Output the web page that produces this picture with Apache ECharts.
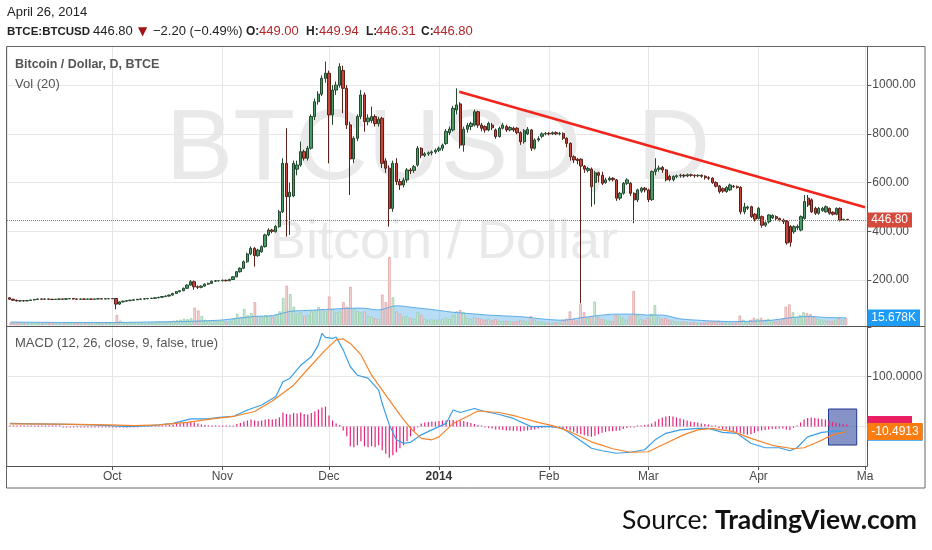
<!DOCTYPE html>
<html>
<head>
<meta charset="utf-8">
<title>BTCE:BTCUSD</title>
<script src="https://cdn.jsdelivr.net/npm/echarts@6/dist/echarts.min.js"></script>
<style>
html, body { margin: 0; padding: 0; background: #fff; }
#chart { width: 932px; height: 550px; }
</style>
</head>
<body>
<div id="chart"></div>
<script>
// daily candles, first one on 2013-09-02, [open, close, low, high]
const firstDay = '2013-09-02';
const ohlc = [
  // Sep
  [127,121,119,129],[121,117,115,123],[117,114,112,119],[114,115,111,117],[115,114,112,117],[114,116,113,118],[116,118,114,119],[118,120,116,122],[120,122,118,124],[122,121,119,124],
  [121,122,119,124],[122,121,119,123],[121,120,118,122],[120,121,118,122],[121,122,119,123],[122,121,119,124],[121,123,120,125],[123,124,121,126],[124,122,120,125],[122,121,119,123],
  [121,122,120,124],[122,121,119,123],[121,122,120,123],[122,121,120,123],[121,122,120,123],[122,123,121,124],[123,122,121,124],[122,123,121,124],[123,123,121,125],
  // Oct
  [123,124,122,126],[124,101,80,126],[101,110,98,113],[110,113,108,115],[113,115,111,117],[115,117,113,119],[117,119,115,121],[119,121,117,122],[121,122,119,124],[122,123,120,125],
  [123,124,121,126],[124,125,122,127],[125,127,123,129],[127,129,125,131],[129,132,127,134],[132,134,130,137],[134,138,132,140],[138,145,136,147],[145,152,143,155],[152,156,149,159],
  [156,166,154,169],[166,179,163,182],[179,193,176,200],[193,172,160,198],[172,170,163,178],[170,175,166,178],[175,183,172,186],[183,186,180,189],[186,195,184,198],[195,197,192,200],
  [197,197,194,200],
  // Nov
  [197,199,194,202],[199,197,194,201],[197,202,195,205],[202,213,200,216],[213,234,211,237],[234,248,230,252],[248,275,245,280],[275,307,270,312],[307,330,302,338],[330,300,255,335],
  [300,323,295,328],[316,337,312,342],[337,385,333,390],[385,405,380,412],[405,400,392,410],[398,420,395,425],[419,480,415,488],[480,679,475,700],[679,542,378,823],[542,560,385,600],
  [545,679,540,690],[655,672,630,690],[672,727,665,768],[727,700,690,735],[700,741,690,750],[741,871,735,880],[871,932,857,945],[932,963,920,975],[963,1028,955,1040],[1028,1049,1010,1097],
  // Dec
  [1049,878,679,1060],[878,980,837,1000],[980,1000,960,1015],[1000,1076,990,1090],[1060,987,885,1080],[987,837,820,1000],[837,697,549,850],[697,782,680,790],[782,871,770,880],[871,960,860,980],
  [960,850,809,970],[850,865,835,880],[855,871,845,912],[871,842,830,880],[842,860,830,870],[864,679,660,870],[689,659,640,700],[659,494,419,670],[494,679,480,690],[679,604,590,700],
  [604,590,570,615],[590,610,580,620],[611,652,600,660],[652,648,635,660],[650,665,640,672],[672,741,665,750],[741,712,700,745],[712,718,705,725],[718,722,710,728],[722,726,712,732],
  [726,733,718,740],
  // Jan
  [733,741,725,748],[741,754,730,760],[760,810,755,820],[805,820,795,830],[816,905,810,915],[898,919,880,987],[923,754,740,930],[754,819,727,830],[819,835,805,845],[830,843,815,850],
  [836,891,830,900],[891,836,825,895],[836,823,810,845],[830,816,805,835],[816,843,810,850],[836,825,815,845],[816,789,780,822],[789,823,785,830],[823,836,818,845],[830,816,808,838],
  [816,826,810,832],[823,816,808,830],[823,805,798,828],[805,768,755,810],[768,813,760,820],[800,819,795,828],[816,741,730,820],[741,775,735,782],[775,780,768,790],[790,800,782,806],
  [800,802,794,808],
  // Feb
  [802,800,794,808],[800,805,795,810],[805,800,795,810],[800,802,794,808],[802,782,775,806],[782,761,745,786],[761,706,690,765],[706,693,680,712],[696,690,675,702],[696,668,104,700],
  [668,655,640,672],[650,658,642,665],[655,583,501,662],[600,640,510,648],[640,630,600,645],[630,597,590,645],[600,611,595,620],[611,618,605,625],[618,612,605,622],[611,536,525,615],
  [536,556,528,562],[556,597,550,602],[597,611,590,618],[597,556,545,602],[556,529,433,560],[529,570,520,575],[565,577,558,582],[577,570,560,582],
  // Mar
  [570,530,520,575],[530,645,525,650],[645,655,630,700],[655,660,645,670],[662,652,640,668],[652,611,605,656],[625,612,605,632],[612,625,605,630],[625,628,618,633],[628,630,620,636],
  [630,627,620,635],[627,632,622,637],[632,630,624,636],[630,628,620,634],[628,630,622,634],[630,626,620,633],[626,620,612,630],[620,618,610,626],[618,600,595,622],[600,585,580,605],
  [586,563,555,590],[575,565,558,580],[563,580,558,585],[570,590,565,596],[585,583,578,590],[583,580,575,588],[580,480,470,585],[480,500,470,517],[495,500,488,505],[501,460,455,505],
  [470,450,440,475],
  // Apr
  [453,494,448,500],[460,425,415,465],[425,435,418,440],[439,467,432,470],[455,465,450,470],[460,452,446,465],[452,446,440,456],[446,440,430,452],[440,352,345,446],[420,355,337,425],
  [398,419,390,425],[415,420,405,428],[405,460,400,465],[453,522,448,549],[536,508,500,549],[529,480,475,535],[494,474,467,501],[474,494,468,500],[485,494,480,500],[480,501,476,506],
  [494,474,468,498],[478,470,465,482],[470,494,466,498],[494,446,440,498],[446,449,442,452],[449,446.8,446.31,449.94]
];

// daily volume, thousands
const volume = [
  6,5,7,6,5,4,5,6,5,4,5,6,4,5,5,4,6,5,4,5,4,5,5,4,6,5,4,5,5,
  5,22,10,6,5,5,6,5,5,4,5,6,6,7,8,8,9,10,11,12,14,13,15,38,32,20,12,10,11,9,10,
  10,8,9,14,25,18,35,22,26,50,20,18,22,20,18,22,30,59,85,67,40,25,28,20,22,30,32,39,35,30,
  62,35,28,30,50,40,83,35,30,28,30,20,18,15,14,66,50,147,60,30,25,18,20,16,14,28,22,14,12,13,12,
  12,14,16,14,22,30,33,28,16,14,18,16,14,12,14,11,13,10,9,10,9,8,9,12,10,8,20,12,8,7,6,
  6,5,6,7,12,14,30,14,10,46,28,16,20,51,18,14,12,10,9,22,20,16,12,20,74,22,14,12,
  16,25,43,18,14,16,12,10,8,7,8,7,6,7,5,5,6,7,8,8,10,6,5,6,5,6,21,12,8,12,16,
  14,16,12,14,10,8,10,14,40,45,28,18,22,28,26,24,20,14,12,10,10,9,12,16,12,15.678
];

// Vol (20) average, thousands
const volMa = [
  ['2013-09-02',7],['2013-09-20',6],['2013-10-01',6],['2013-10-10',7],['2013-10-20',8],['2013-10-31',11],
  ['2013-11-05',15],['2013-11-10',19],['2013-11-15',21],['2013-11-20',30],['2013-11-25',32],['2013-11-30',34],
  ['2013-12-05',36],['2013-12-10',37],['2013-12-15',33],['2013-12-20',42],['2013-12-25',38],['2013-12-31',33],
  ['2014-01-05',28],['2014-01-10',25],['2014-01-15',22],['2014-01-20',20],['2014-01-25',18],['2014-01-31',13],
  ['2014-02-05',11],['2014-02-10',16],['2014-02-15',21],['2014-02-20',24],['2014-02-25',24],['2014-03-01',22],
  ['2014-03-05',22],['2014-03-10',14],['2014-03-15',11],['2014-03-20',9],['2014-03-25',8],['2014-03-31',9],
  ['2014-04-05',11],['2014-04-10',16],['2014-04-15',19],['2014-04-20',17],['2014-04-26',16]
];

// MACD (12, 26, close, 9)
const macdLine = [
  ['2013-09-02',6],['2013-09-09',5],['2013-09-18',4],['2013-09-25',3],['2013-09-30',1.5],['2013-10-05',-0.5],
  ['2013-10-11',1],['2013-10-14',3],['2013-10-18',6],['2013-10-23',15],['2013-10-28',15],['2013-10-31',18],
  ['2013-11-04',20],['2013-11-08',33],['2013-11-12',43],['2013-11-16',60],['2013-11-18',90],['2013-11-20',97],
  ['2013-11-23',123],['2013-11-26',140],['2013-11-28',164],['2013-11-29',187],['2013-11-30',179],['2013-12-02',177],
  ['2013-12-03',180],['2013-12-05',154],['2013-12-07',120],['2013-12-09',103],['2013-12-12',97],['2013-12-15',73],
  ['2013-12-16',46],['2013-12-18',3],['2013-12-20',-27],['2013-12-22',-34],['2013-12-24',-32],['2013-12-27',-17],
  ['2013-12-30',-7],['2014-01-03',6],['2014-01-05',33],['2014-01-07',28],['2014-01-11',36],['2014-01-14',30],
  ['2014-01-18',24],['2014-01-22',16],['2014-01-27',-0.5],['2014-02-01',0],['2014-02-05',-4],['2014-02-09',-24],
  ['2014-02-13',-44],['2014-02-16',-49],['2014-02-20',-54],['2014-02-24',-52],['2014-02-28',-47],['2014-03-03',-27],
  ['2014-03-06',-14],['2014-03-10',-7],['2014-03-15',-4],['2014-03-18',-4],['2014-03-22',-12],['2014-03-26',-14],
  ['2014-03-30',-34],['2014-04-03',-43],['2014-04-07',-43],['2014-04-10',-49],['2014-04-12',-43],['2014-04-15',-21],
  ['2014-04-19',-12],['2014-04-23',-9],['2014-04-26',-12]
];
const signalLine = [
  ['2013-09-02',5],['2013-09-16',4.5],['2013-09-30',3],['2013-10-07',1.5],['2013-10-14',3],['2013-10-22',8],
  ['2013-10-29',15],['2013-11-04',20],['2013-11-10',30],['2013-11-15',51],['2013-11-21',83],['2013-11-26',123],
  ['2013-11-30',154],['2013-12-03',174],['2013-12-05',176],['2013-12-07',167],['2013-12-10',144],['2013-12-13',103],
  ['2013-12-17',63],['2013-12-21',23],['2013-12-24',-4],['2013-12-27',-24],['2013-12-30',-27],['2014-01-01',-21],
  ['2014-01-05',6],['2014-01-09',20],['2014-01-12',31],['2014-01-18',28],['2014-01-23',20],['2014-01-29',8],
  ['2014-02-02',1.5],['2014-02-07',-10.6],['2014-02-13',-31],['2014-02-19',-45],['2014-02-24',-52],['2014-03-01',-51],
  ['2014-03-06',-34],['2014-03-11',-17],['2014-03-15',-7],['2014-03-19',-4],['2014-03-25',-10.6],['2014-03-30',-24],
  ['2014-04-05',-38],['2014-04-11',-45],['2014-04-14',-43],['2014-04-18',-31],['2014-04-22',-17],['2014-04-26',-10.4913]
];
// histogram, one per day
const macdHist = [
  2,2,1.5,1.5,1,1,0.5,0.5,0.5,0.5,0,0,0,0,0,-0.5,-0.5,-0.5,-0.5,-0.5,-0.5,-0.5,-0.5,-0.5,-0.5,-0.5,-0.5,-0.5,-0.5,
  -1,-2,-2,-2,-1.5,-1,-1,-0.5,0,0.5,0.5,1,1,1.5,2,2.5,3,4,5,6,7,8,9,8,6,4,3,2,1.5,1,1,
  1,1,1.5,2,5,7,10,12,14,12,11,12,14,15,14,15,18,28,25,24,27,26,28,25,24,27,30,34,38,40,
  22,12,6,3,-8,-20,-40,-42,-38,-30,-40,-42,-40,-42,-38,-48,-55,-63,-58,-52,-44,-38,-30,-20,-10,-2,6,8,9,10,10,
  11,12,12,13,13,12,12,11,9,7,5,3,1,-2,-3,-4,-6,-6,-7,-8,-8,-9,-9,-10,-9,-8,-7,-6,-4,-3,-2,
  -1,-1,-2,-2,-3,-5,-8,-11,-14,-16,-18,-20,-21,-19,-16,-13,-11,-10,-10,-9,-8,-5,-3,-1,-0.5,1,2,3,
  4,6,10,15,18,20,21,20,18,16,14,12,10,9,8,6,5,4,2,0,-3,-5,-6,-8,-10,-12,-14,-16,-17,-16,-13,
  -10,-8,-7,-6,-5,-5,-4,-4,-6,-7,-3,2,8,14,17,18,17,16,15,14,12,9,7,6,5,4
];

// drawn trend line
const trendLine = [['2014-01-06T17:00Z', 973], ['2014-05-01', 499]];
// highlighted box on the MACD pane
const macdBox = [['2014-04-20T21:00Z', 35], ['2014-04-28T20:00Z', -37.5]];

const DAY = 86400000;
const UI = '"Liberation Sans", Arial, sans-serif';
const NOLINE = 'rgba(0,0,0,0)';
const t0 = Date.parse(firstDay);
const days = ohlc.map((c, i) => t0 + i * DAY);
const pairs = a => a.map(p => [Date.parse(p[0]), p[1]]);

const candleData = ohlc.map((c, i) => [days[i], c[0], c[1], c[2], c[3]]);
const volData = volume.map((v, i) => {
  const up = ohlc[i][1] >= ohlc[i][0];
  return {
    value: [days[i], v],
    itemStyle: up ? { color: '#d8efde', borderColor: '#98cca6' } : { color: '#f7dada', borderColor: '#dea2a2' }
  };
});
const histData = macdHist.map((v, i) => [days[i], v]);

const last = ohlc[ohlc.length - 1];
const prevClose = ohlc[ohlc.length - 2][1];
const chg = last[1] - prevClose;
const chgPct = chg / prevClose * 100;
const minus = v => (v < 0 ? '\u2212' : '') + Math.abs(v).toFixed(2);

const xMin = Date.parse('2013-09-01T08:10Z');
const xMax = Date.parse('2014-05-01T15:36Z');
// the May label is cut by the price scale in the original
const monthNames = ['Jan','Feb','Mar','Apr','Ma','Jun','Jul','Aug','Sep','Oct','Nov','Dec'];

const hiddenX = (gi, split) => ({
  type: 'time', gridIndex: gi, min: xMin, max: xMax,
  minInterval: 28 * DAY, maxInterval: 31 * DAY,
  axisLine: { show: false }, axisTick: { show: false }, axisLabel: { show: false },
  splitLine: { show: split, lineStyle: { color: '#e6e6e6' } }
});

const txt = (x, y, text, font, fill, align) => ({
  type: 'text', x: x, y: y, z: 5, silent: true,
  style: { text: text, font: font, fill: fill, textAlign: align || 'left', textVerticalAlign: 'middle' }
});

const lastLabel = (value, text, bg, fg) => ({
  symbol: 'none', silent: true, animation: false,
  lineStyle: { color: NOLINE, width: 0 },
  data: [{ yAxis: value }],
  label: {
    position: 'end', distance: 0, formatter: text,
    backgroundColor: bg, color: fg, padding: [3, 4, 2, 4],
    fontFamily: UI, fontSize: 12
  }
});

const chart = echarts.init(document.getElementById('chart'));
chart.setOption({
  animation: false,
  useUTC: true,
  backgroundColor: '#fff',
  grid: [
    { left: 7, right: 64.7, top: 46.2, bottom: 221.3, outerBoundsMode: 'none' },
    { left: 7, right: 64.7, top: 46.2, bottom: 224.7, outerBoundsMode: 'none' },
    { left: 7, right: 64.7, top: 327, bottom: 73.9, outerBoundsMode: 'none' },
    { left: 7, right: 64.7, top: 327, bottom: 84, outerBoundsMode: 'none' }
  ],
  xAxis: [
    hiddenX(0, true),
    hiddenX(1, false),
    hiddenX(2, false),
    {
      type: 'time', gridIndex: 3, min: xMin, max: xMax,
      minInterval: 28 * DAY, maxInterval: 31 * DAY,
      axisLine: { show: true, lineStyle: { color: '#555', width: 1 } },
      axisTick: { show: true, length: 4, lineStyle: { color: '#555' } },
      splitLine: { show: true, lineStyle: { color: '#e6e6e6' } },
      axisLabel: {
        show: true, showMinLabel: false, showMaxLabel: false, margin: 5,
        fontFamily: UI, fontSize: 12, color: '#4a4a4a',
        formatter: function (value) {
          const d = new Date(value);
          if (d.getUTCDate() !== 1 || d.getUTCHours() !== 0 || d.getUTCMinutes() !== 0) return '';
          const m = d.getUTCMonth();
          return m === 0 ? '{y|' + d.getUTCFullYear() + '}' : monthNames[m];
        },
        rich: { y: { fontFamily: UI, fontSize: 12, fontWeight: 'bold', color: '#333' } }
      }
    }
  ],
  yAxis: [
    {
      type: 'value', gridIndex: 0, position: 'right', min: 0, max: 1160, interval: 200,
      axisLine: { show: true, lineStyle: { color: '#555' } },
      axisTick: { show: true, length: 4, lineStyle: { color: '#555' } },
      axisLabel: {
        showMinLabel: false, showMaxLabel: false, margin: 5,
        fontFamily: UI, fontSize: 12, color: '#4a4a4a',
        formatter: v => v.toFixed(2)
      },
      splitLine: { show: true, showMinLine: false, showMaxLine: false, lineStyle: { color: '#e6e6e6' } }
    },
    { type: 'value', gridIndex: 1, min: 0, max: 600, show: false, splitLine: { show: false } },
    {
      type: 'value', gridIndex: 2, position: 'right', min: -100, max: 200, interval: 100,
      axisLine: { show: false },
      axisTick: { show: true, length: 4, lineStyle: { color: '#555' } },
      axisLabel: {
        margin: 5, fontFamily: UI, fontSize: 12, color: '#4a4a4a',
        formatter: v => (v === 100 ? v.toFixed(4) : '')
      },
      splitLine: { show: true, showMinLine: false, showMaxLine: false, lineStyle: { color: '#e6e6e6' } }
    },
    {
      type: 'value', gridIndex: 3, position: 'right', min: 0, max: 1,
      axisLine: { show: true, lineStyle: { color: '#555' } },
      axisTick: { show: false }, axisLabel: { show: false }, splitLine: { show: false }
    }
  ],
  series: [
    {
      name: 'Volume', type: 'bar', xAxisIndex: 1, yAxisIndex: 1, z: 1,
      barWidth: 2.6, data: volData,
      itemStyle: { borderWidth: 0.8 },
      markLine: lastLabel(volume[volume.length - 1], volume[volume.length - 1].toFixed(3) + 'K', '#1e9cf5', '#fff')
    },
    {
      name: 'Vol (20)', type: 'line', xAxisIndex: 1, yAxisIndex: 1, z: 1,
      data: pairs(volMa), symbol: 'none', smooth: 0.3,
      lineStyle: { color: 'rgba(80,165,228,0.9)', width: 1 },
      areaStyle: { color: 'rgba(110,185,238,0.72)' }
    },
    {
      name: 'BTCUSD', type: 'candlestick', xAxisIndex: 0, yAxisIndex: 0, z: 3,
      barWidth: 2.8, data: candleData,
      encode: { x: 0, y: [1, 2, 3, 4] },
      itemStyle: {
        color: '#4a9a68', color0: '#c4453a',
        borderColor: '#24492f', borderColor0: '#5a2019', borderWidth: 1
      },
      markLine: {
        symbol: 'none', silent: true, animation: false,
        lineStyle: { color: '#e45444', type: 'dotted', width: 1 },
        data: [{ yAxis: last[1] }],
        label: {
          position: 'end', distance: 0, formatter: last[1].toFixed(2),
          backgroundColor: '#d44a3c', color: '#fff', padding: [2, 4, 1, 4],
          fontFamily: UI, fontSize: 12
        }
      }
    },
    {
      name: 'Trend', type: 'line', xAxisIndex: 0, yAxisIndex: 0, z: 4,
      data: pairs(trendLine), symbol: 'none',
      lineStyle: { color: '#f2241b', width: 2.5 }
    },
    {
      name: 'Histogram', type: 'bar', xAxisIndex: 2, yAxisIndex: 2, z: 2,
      barWidth: 1.2, barMinHeight: 1, data: histData,
      itemStyle: { color: '#e2257c' },
      markLine: lastLabel(macdHist[macdHist.length - 1], macdHist[macdHist.length - 1].toFixed(4), '#ea1e63', '#ea1e63')
    },
    {
      name: 'MACD', type: 'line', xAxisIndex: 2, yAxisIndex: 2, z: 3,
      data: pairs(macdLine), symbol: 'none',
      lineStyle: { color: '#3a9ee6', width: 1.2 },
      markLine: lastLabel(macdLine[macdLine.length - 1][1], macdLine[macdLine.length - 1][1].toFixed(4), '#2a97e8', '#fff')
    },
    {
      name: 'Signal', type: 'line', xAxisIndex: 2, yAxisIndex: 2, z: 4,
      data: pairs(signalLine), symbol: 'none',
      lineStyle: { color: '#f4832b', width: 1.2 },
      markLine: lastLabel(signalLine[signalLine.length - 1][1], signalLine[signalLine.length - 1][1].toFixed(4), '#fb7d12', '#fff'),
      markArea: {
        silent: true,
        itemStyle: { color: 'rgba(58,80,165,0.62)', borderColor: '#24378f', borderWidth: 1 },
        data: [[
          { xAxis: Date.parse(macdBox[0][0]), yAxis: macdBox[0][1] },
          { xAxis: Date.parse(macdBox[1][0]), yAxis: macdBox[1][1] }
        ]]
      }
    }
  ],
  graphic: [
    // watermark
    { type: 'text', x: 438, y: 151, z: 0, silent: true,
      style: { text: 'BTCUSD, D', font: '101px ' + UI, fill: '#e9e9e9', textAlign: 'center', textVerticalAlign: 'middle' } },
    { type: 'text', x: 444, y: 243, z: 0, silent: true,
      style: { text: 'Bitcoin / Dollar', font: '54px ' + UI, fill: '#e9e9e9', textAlign: 'center', textVerticalAlign: 'middle' } },
    // header
    txt(7, 12, 'April 26, 2014', '13px ' + UI, '#222'),
    txt(7, 31.5, 'BTCE:BTCUSD', 'bold 11.5px ' + UI, '#222'),
    txt(93, 31.5, last[1].toFixed(2), '13px ' + UI, '#222'),
    txt(138, 31.5, '\u25BC', '12px "DejaVu Sans"', '#a31515'),
    txt(153, 31.5, minus(chg) + ' (' + minus(chgPct) + '%)', '13px ' + UI, '#222'),
    txt(246, 31.5, 'O:', 'bold 12px ' + UI, '#222'),
    txt(259, 31.5, last[0].toFixed(2), '13px ' + UI, '#b0282b'),
    txt(306, 31.5, 'H:', 'bold 12px ' + UI, '#222'),
    txt(319, 31.5, last[3].toFixed(2), '13px ' + UI, '#b0282b'),
    txt(366, 31.5, 'L:', 'bold 12px ' + UI, '#222'),
    txt(376, 31.5, last[2].toFixed(2), '13px ' + UI, '#b0282b'),
    txt(421, 31.5, 'C:', 'bold 12px ' + UI, '#222'),
    txt(433, 31.5, last[1].toFixed(2), '13px ' + UI, '#b0282b'),
    // pane titles
    txt(15, 65, 'Bitcoin / Dollar, D, BTCE', 'bold 12.5px ' + UI, '#555'),
    txt(15, 84, 'Vol (20)', '13px ' + UI, '#555'),
    txt(15, 343.5, 'MACD (12, 26, close, 9, false, true)', '13px ' + UI, '#555'),
    // frame
    { type: 'rect', z: 20, silent: true, shape: { x: 6.5, y: 46.5, width: 918.5, height: 441.5 },
      style: { fill: 'none', stroke: '#666', lineWidth: 1 } },
    { type: 'line', z: 20, silent: true, shape: { x1: 6.5, y1: 326.5, x2: 925, y2: 326.5 },
      style: { stroke: '#555', lineWidth: 1 } },
    // source
    { type: 'text', x: 917, y: 520, z: 5, silent: true,
      style: {
        text: '{s|Source: }{b|TradingView.com}', textAlign: 'right', textVerticalAlign: 'middle',
        rich: {
          s: { fontFamily: 'Lato', fontSize: 26.5, fill: '#111' },
          b: { fontFamily: 'Lato', fontSize: 26.5, fontWeight: 'bold', fill: '#111' }
        }
      } }
  ]
});
</script>
</body>
</html>
